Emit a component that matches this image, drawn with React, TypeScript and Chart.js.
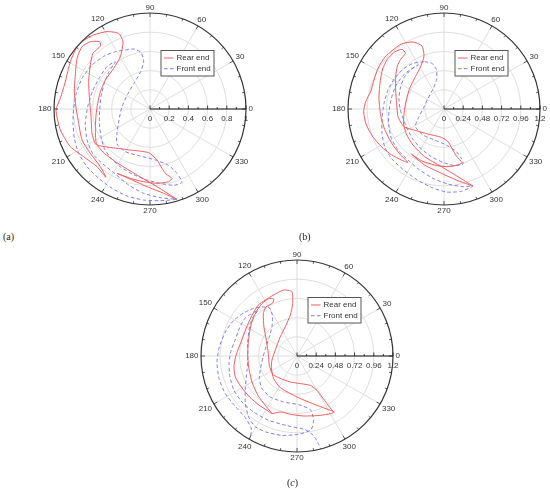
import React, { useEffect, useRef } from "react";
import { Chart, registerables } from "chart.js";

Chart.register(...registerables);

// ---- data (load components, x = r·cos θ, y = r·sin θ) ----
const angleTicks = [0, 30, 60, 90, 120, 150, 180, 210, 240, 270, 300, 330];
const radialTicksA = [0, 0.2, 0.4, 0.6, 0.8, 1];
const radialLabelsA = ["0", "0.2", "0.4", "0.6", "0.8", "1"];
const radialTicksBC = [0, 0.24, 0.48, 0.72, 0.96, 1.2];
const radialLabelsBC = ["0", "0.24", "0.48", "0.72", "0.96", "1.2"];
const seriesLabels = ["Rear end", "Front end"];
const panelLabels = ["a", "b", "c"];

const rearA = [
  [0.281, -0.941], [0.073, -0.809], [-0.135, -0.688], [-0.344, -0.559], [-0.483, -0.455], [-0.559, -0.358],
  [-0.569, -0.184], [-0.562, -0.063], [-0.545, 0.059], [-0.517, 0.181], [-0.465, 0.302], [-0.378, 0.424],
  [-0.309, 0.545], [-0.281, 0.701], [-0.326, 0.788], [-0.448, 0.806], [-0.587, 0.771], [-0.743, 0.674],
  [-0.83, 0.493], [-0.882, 0.285], [-0.934, 0.111], [-0.979, -0.01], [-0.934, -0.219], [-0.83, -0.392],
  [-0.691, -0.497], [-0.552, -0.601], [-0.458, -0.712], [-0.517, -0.601], [-0.622, -0.462], [-0.708, -0.323],
  [-0.743, -0.149], [-0.767, -0.01], [-0.788, 0.181], [-0.778, 0.354], [-0.76, 0.528], [-0.708, 0.649],
  [-0.622, 0.701], [-0.524, 0.701], [-0.517, 0.656], [-0.594, 0.58], [-0.622, 0.458], [-0.639, 0.285],
  [-0.628, 0.076], [-0.615, -0.063], [-0.604, -0.253], [-0.569, -0.365], [-0.517, -0.385], [-0.396, -0.403],
  [-0.205, -0.427], [-0.014, -0.455], [0.073, -0.531], [0.125, -0.618], [0.167, -0.677], [0.229, -0.722],
  [0.194, -0.757], [0.073, -0.774], [-0.066, -0.757], [-0.205, -0.722], [-0.344, -0.67], [-0.24, -0.715],
  [-0.031, -0.809], [0.142, -0.878], [0.281, -0.941],
];

const frontA = [
  [-0.257, 0.615], [-0.17, 0.625], [-0.094, 0.59], [-0.066, 0.493], [-0.097, 0.389], [-0.163, 0.274],
  [-0.233, 0.153], [-0.292, 0.024], [-0.323, -0.115], [-0.344, -0.253], [-0.344, -0.365], [-0.257, -0.444],
  [-0.101, -0.49], [0.056, -0.531], [0.194, -0.587], [0.281, -0.67], [0.333, -0.767], [0.247, -0.795],
  [0.108, -0.774], [-0.031, -0.74], [-0.17, -0.684], [-0.302, -0.608], [-0.406, -0.514], [-0.476, -0.41],
  [-0.51, -0.288], [-0.528, -0.149], [-0.524, -0.01], [-0.51, 0.128], [-0.476, 0.267], [-0.427, 0.389],
  [-0.361, 0.493], [-0.448, 0.441], [-0.531, 0.319], [-0.601, 0.181], [-0.649, 0.024], [-0.674, -0.149],
  [-0.656, -0.323], [-0.594, -0.469], [-0.49, -0.573], [-0.361, -0.677], [-0.222, -0.792], [-0.066, -0.878],
  [0.108, -0.924], [0.274, -0.941], [0.108, -0.955], [-0.066, -0.948], [-0.24, -0.906], [-0.396, -0.826],
  [-0.535, -0.722], [-0.656, -0.601], [-0.743, -0.462], [-0.788, -0.306], [-0.802, -0.149], [-0.795, 0.007],
  [-0.767, 0.163], [-0.708, 0.319], [-0.604, 0.458], [-0.476, 0.552], [-0.361, 0.597], [-0.257, 0.615],
];

const rearB = [
  [0.363, -0.963], [0.175, -0.846], [-0.033, -0.721], [-0.242, -0.596], [-0.388, -0.45], [-0.471, -0.313],
  [-0.504, -0.188], [-0.5, -0.054], [-0.471, 0.113], [-0.429, 0.258], [-0.358, 0.404], [-0.292, 0.529],
  [-0.25, 0.663], [-0.275, 0.788], [-0.388, 0.838], [-0.533, 0.813], [-0.638, 0.738], [-0.742, 0.646],
  [-0.825, 0.508], [-0.875, 0.363], [-0.917, 0.217], [-0.979, 0.092], [-1.004, -0.033], [-0.975, -0.188],
  [-0.896, -0.338], [-0.783, -0.471], [-0.658, -0.571], [-0.533, -0.638], [-0.45, -0.667], [-0.554, -0.563],
  [-0.658, -0.421], [-0.742, -0.254], [-0.792, -0.075], [-0.813, 0.133], [-0.8, 0.321], [-0.771, 0.488],
  [-0.708, 0.621], [-0.617, 0.713], [-0.525, 0.746], [-0.483, 0.696], [-0.542, 0.621], [-0.583, 0.538],
  [-0.604, 0.404], [-0.604, 0.238], [-0.592, 0.071], [-0.575, -0.096], [-0.5, -0.221], [-0.346, -0.271],
  [-0.2, -0.313], [-0.033, -0.354], [0.05, -0.408], [0.1, -0.492], [0.154, -0.588], [0.225, -0.671],
  [0.175, -0.7], [0.05, -0.721], [-0.117, -0.7], [-0.283, -0.646], [-0.408, -0.563], [-0.242, -0.7],
  [-0.033, -0.804], [0.175, -0.896], [0.363, -0.963],
];

const frontB = [
  [-0.242, 0.592], [-0.15, 0.571], [-0.096, 0.496], [-0.092, 0.371], [-0.133, 0.258], [-0.2, 0.133],
  [-0.258, 0.008], [-0.317, -0.104], [-0.358, -0.221], [-0.263, -0.325], [-0.117, -0.388], [0.029, -0.45],
  [0.154, -0.533], [0.217, -0.617], [0.238, -0.688], [0.133, -0.708], [-0.013, -0.667], [-0.158, -0.596],
  [-0.283, -0.5], [-0.388, -0.379], [-0.458, -0.25], [-0.513, -0.117], [-0.55, 0.008], [-0.563, 0.133],
  [-0.542, 0.279], [-0.492, 0.404], [-0.408, 0.496], [-0.325, 0.55], [-0.429, 0.488], [-0.525, 0.404],
  [-0.608, 0.279], [-0.658, 0.133], [-0.688, -0.033], [-0.692, -0.2], [-0.658, -0.367], [-0.575, -0.513],
  [-0.45, -0.638], [-0.304, -0.763], [-0.138, -0.867], [0.05, -0.938], [0.238, -0.971], [0.363, -0.963],
  [0.217, -1.029], [0.029, -1.038], [-0.158, -0.979], [-0.346, -0.879], [-0.513, -0.754], [-0.658, -0.617],
  [-0.742, -0.471], [-0.775, -0.304], [-0.775, -0.117], [-0.75, 0.071], [-0.7, 0.238], [-0.617, 0.383],
  [-0.513, 0.496], [-0.388, 0.571], [-0.242, 0.592],
];

const rearC = [
  [-0.313, -0.721], [-0.196, -0.7], [-0.083, -0.729], [0.083, -0.75], [0.292, -0.742], [0.417, -0.721],
  [0.467, -0.7], [0.25, -0.617], [0.0, -0.513], [-0.208, -0.396], [-0.292, -0.283], [-0.321, -0.146],
  [-0.313, -0.05], [-0.263, 0.096], [-0.208, 0.242], [-0.146, 0.367], [-0.083, 0.513], [-0.054, 0.658],
  [-0.063, 0.804], [-0.167, 0.825], [-0.292, 0.763], [-0.396, 0.7], [-0.488, 0.633], [-0.563, 0.508],
  [-0.638, 0.342], [-0.7, 0.175], [-0.763, 0.008], [-0.788, -0.129], [-0.771, -0.263], [-0.696, -0.388],
  [-0.592, -0.513], [-0.471, -0.617], [-0.375, -0.679], [-0.313, -0.721], [-0.396, -0.617], [-0.488, -0.492],
  [-0.563, -0.325], [-0.604, -0.138], [-0.617, 0.029], [-0.604, 0.217], [-0.571, 0.404], [-0.513, 0.55],
  [-0.438, 0.654], [-0.354, 0.717], [-0.292, 0.713], [-0.304, 0.663], [-0.388, 0.613], [-0.421, 0.529],
  [-0.413, 0.363], [-0.383, 0.196], [-0.358, 0.029], [-0.346, -0.117], [-0.304, -0.229], [-0.229, -0.271],
  [-0.083, -0.325], [0.167, -0.367], [0.25, -0.429], [0.313, -0.513], [0.375, -0.596], [0.446, -0.688],
];

const frontC = [
  [-0.438, 0.613], [-0.346, 0.604], [-0.308, 0.508], [-0.313, 0.363], [-0.346, 0.238], [-0.388, 0.113],
  [-0.425, -0.013], [-0.454, -0.146], [-0.471, -0.283], [-0.438, -0.408], [-0.333, -0.513], [-0.167, -0.575],
  [0.021, -0.608], [0.167, -0.671], [0.208, -0.796], [0.175, -0.921], [0.021, -0.979], [-0.188, -0.992],
  [-0.388, -0.95], [-0.529, -0.879], [-0.604, -0.763], [-0.646, -0.596], [-0.646, -0.388], [-0.625, -0.179],
  [-0.613, 0.008], [-0.617, 0.158], [-0.6, 0.325], [-0.554, 0.479], [-0.488, 0.571], [-0.604, 0.508],
  [-0.654, 0.467], [-0.717, 0.354], [-0.775, 0.196], [-0.829, 0.05], [-0.85, -0.096], [-0.838, -0.263],
  [-0.788, -0.429], [-0.688, -0.575], [-0.542, -0.7], [-0.354, -0.804], [-0.125, -0.871], [0.104, -0.921],
  [0.208, -0.996], [0.271, -1.104], [0.321, -1.242], [-0.021, -1.388], [-0.438, -1.304], [-0.646, -1.2],
  [-0.583, -1.013], [-0.571, -0.908], [-0.646, -0.771], [-0.771, -0.629], [-0.896, -0.471], [-0.975, -0.283],
  [-1.0, -0.075], [-0.971, 0.113], [-0.896, 0.3], [-0.792, 0.446], [-0.667, 0.538], [-0.542, 0.596],
  [-0.438, 0.613],
];

// ---- drawing ----
const SIZE = 260;
const HALF = SIZE / 2;
const OUTER_PX = 96;
const FONT = "8px Liberation Sans, Arimo, Arial, sans-serif";
const RED = "#ee5e5e";
const BLUE = "#7c7cee";

type PlotProps = {
  rear: number[][];
  front: number[][];
  ticks: number[];
  labels: string[];
  left: number;
  top: number;
};

function PolarPlot({ rear, front, ticks, labels, left, top }: PlotProps) {
  const ref = useRef<HTMLCanvasElement | null>(null);

  useEffect(() => {
    if (!ref.current) return;
    const rmax = ticks[ticks.length - 1];
    const ext = (rmax * HALF) / OUTER_PX;
    const toPts = (arr: number[][]) => arr.map(([x, y]) => ({ x, y }));

    const frame = {
      id: "polarFrame",
      beforeDatasetsDraw(chart: any) {
        const { ctx } = chart;
        const xs = chart.scales.x;
        const ys = chart.scales.y;
        const cx = xs.getPixelForValue(0);
        const cy = ys.getPixelForValue(0);
        const R = xs.getPixelForValue(rmax) - cx;
        ctx.save();
        ctx.strokeStyle = "#dadada";
        ctx.lineWidth = 0.9;
        for (const t of ticks.slice(1, -1)) {
          const r = xs.getPixelForValue(t) - cx;
          ctx.beginPath();
          ctx.arc(cx, cy, r, 0, Math.PI * 2);
          ctx.stroke();
        }
        for (const a of angleTicks) {
          const th = (a * Math.PI) / 180;
          ctx.beginPath();
          ctx.moveTo(cx, cy);
          ctx.lineTo(cx + R * Math.cos(th), cy - R * Math.sin(th));
          ctx.stroke();
        }
        ctx.restore();
        ctx.save();
        ctx.beginPath();
        ctx.arc(cx, cy, R, 0, Math.PI * 2);
        ctx.clip();
      },
      afterDatasetsDraw(chart: any) {
        const { ctx } = chart;
        ctx.restore();
        const xs = chart.scales.x;
        const ys = chart.scales.y;
        const cx = xs.getPixelForValue(0);
        const cy = ys.getPixelForValue(0);
        const R = xs.getPixelForValue(rmax) - cx;
        ctx.save();
        // outer circle
        ctx.strokeStyle = "#333";
        ctx.lineWidth = 1.2;
        ctx.beginPath();
        ctx.arc(cx, cy, R, 0, Math.PI * 2);
        ctx.stroke();
        // minor angular ticks
        ctx.lineWidth = 0.8;
        for (let a = 0; a < 360; a += 10) {
          const th = (a * Math.PI) / 180;
          const len = a % 30 === 0 ? 4 : 2.5;
          ctx.beginPath();
          ctx.moveTo(cx + R * Math.cos(th), cy - R * Math.sin(th));
          ctx.lineTo(cx + (R - len) * Math.cos(th), cy - (R - len) * Math.sin(th));
          ctx.stroke();
        }
        // angle labels
        ctx.font = FONT;
        ctx.fillStyle = "#333";
        ctx.textAlign = "center";
        ctx.textBaseline = "middle";
        for (const a of angleTicks) {
          const th = (a * Math.PI) / 180;
          const txt = String(a);
          const w = ctx.measureText(txt).width;
          const d = R + 2.5 + (w / 2) * Math.abs(Math.cos(th)) + 3 * Math.abs(Math.sin(th));
          ctx.fillText(txt, cx + d * Math.cos(th), cy - d * Math.sin(th));
        }
        // radial axis
        ctx.strokeStyle = "#111";
        ctx.lineWidth = 1;
        ctx.beginPath();
        ctx.moveTo(cx, cy);
        ctx.lineTo(cx + R, cy);
        ctx.stroke();
        ctx.lineWidth = 0.8;
        for (let i = 0; i < ticks.length; i++) {
          const px = xs.getPixelForValue(ticks[i]);
          ctx.beginPath();
          ctx.moveTo(px, cy);
          ctx.lineTo(px, cy - 3.5);
          ctx.stroke();
          if (i < ticks.length - 1) {
            const mx = xs.getPixelForValue((ticks[i] + ticks[i + 1]) / 2);
            ctx.beginPath();
            ctx.moveTo(mx, cy);
            ctx.lineTo(mx, cy - 2);
            ctx.stroke();
          }
          ctx.fillText(labels[i], px, cy + 9.5);
        }
        // legend
        const bx = cx + 11;
        const by = cy - 58.5;
        ctx.fillStyle = "#fff";
        ctx.fillRect(bx, by, 53, 25.5);
        ctx.strokeStyle = "#444";
        ctx.lineWidth = 0.9;
        ctx.strokeRect(bx, by, 53, 25.5);
        chart.data.datasets.forEach((ds: any, i: number) => {
          const ly = by + 7.5 + i * 10.7;
          ctx.strokeStyle = ds.borderColor;
          ctx.lineWidth = 1;
          ctx.setLineDash(ds.borderDash || []);
          ctx.beginPath();
          ctx.moveTo(bx + 3, ly);
          ctx.lineTo(bx + 12.5, ly);
          ctx.stroke();
          ctx.setLineDash([]);
          ctx.fillStyle = "#333";
          ctx.textAlign = "left";
          ctx.fillText(ds.label, bx + 15.5, ly);
        });
        ctx.restore();
      },
    };

    const chart = new Chart(ref.current, {
      type: "scatter",
      data: {
        datasets: [
          {
            label: seriesLabels[0],
            data: toPts(rear),
            showLine: true,
            borderColor: RED,
            borderWidth: 1,
            pointRadius: 0,
            tension: 0.2,
            fill: false,
          },
          {
            label: seriesLabels[1],
            data: toPts(front),
            showLine: true,
            borderColor: BLUE,
            borderWidth: 1,
            borderDash: [3.5, 2.5],
            pointRadius: 0,
            tension: 0.2,
            fill: false,
          },
        ],
      },
      options: {
        animation: false,
        responsive: false,
        maintainAspectRatio: false,
        layout: { padding: 0 },
        plugins: { legend: { display: false }, tooltip: { enabled: false } },
        scales: {
          x: { type: "linear", min: -ext, max: ext, display: false },
          y: { type: "linear", min: -ext, max: ext, display: false },
        },
      },
      plugins: [frame],
    } as any);

    return () => chart.destroy();
  }, [rear, front, ticks, labels]);

  return (
    <canvas
      ref={ref}
      width={SIZE}
      height={SIZE}
      style={{ position: "absolute", left, top, width: SIZE, height: SIZE }}
    />
  );
}

const labelStyle: React.CSSProperties = {
  position: "absolute",
  fontFamily: "'Liberation Serif', 'DejaVu Serif', serif",
  fontSize: "10px",
  lineHeight: "12px",
  color: "#222",
};

export default function App() {
  return (
    <div
      style={{
        position: "fixed",
        left: 0,
        top: 0,
        width: 550,
        height: 492,
        background: "#fff",
        overflow: "hidden",
      }}
    >
      <PolarPlot rear={rearA} front={frontA} ticks={radialTicksA} labels={radialLabelsA} left={20} top={-21} />
      <PolarPlot rear={rearB} front={frontB} ticks={radialTicksBC} labels={radialLabelsBC} left={314} top={-21} />
      <PolarPlot rear={rearC} front={frontC} ticks={radialTicksBC} labels={radialLabelsBC} left={167} top={226} />
      <div style={{ ...labelStyle, left: 3, top: 231 }}>({panelLabels[0]})</div>
      <div style={{ ...labelStyle, left: 299, top: 231 }}>({panelLabels[1]})</div>
      <div style={{ ...labelStyle, left: 287, top: 477 }}>
        (<i>{panelLabels[2]}</i>)
      </div>
    </div>
  );
}
